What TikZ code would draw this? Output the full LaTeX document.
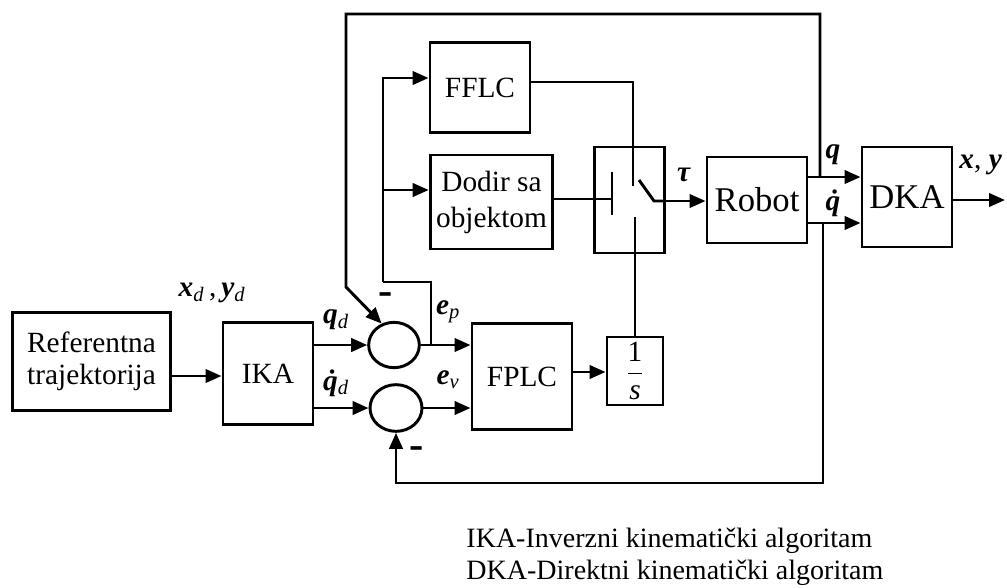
\documentclass[tikz,border=0pt]{standalone}
\usepackage{amsmath}
\usepackage{fontspec}
\setmainfont{Liberation Serif}
\usetikzlibrary{arrows.meta,shapes.geometric}
\newcommand{\bvec}[1]{\textbf{\textit{#1}}}
\newcommand{\dq}{\textbf{\textit{\accent"02D9 q}}}
\begin{document}
\begin{tikzpicture}[x=0.75pt,y=-0.75pt,>={Triangle[length=12pt,width=10pt]},line width=2.2pt,
    block/.style={draw,rectangle,inner sep=0pt,align=center,font=\fontsize{22}{24}\selectfont},
    sum/.style={draw,ellipse,inner sep=0pt},
    lbl/.style={inner sep=0pt,font=\fontsize{22}{24}\selectfont},
    minus/.style={inner sep=0pt,font=\fontsize{32}{32}\bfseries}]
  \useasboundingbox (0,0) rectangle (1007,587);
  \node[block,minimum width=119pt,minimum height=73pt] (ref) at (91.5,361.5) {Referentna\\trajektorija};
  \node[block,minimum width=67.5pt,minimum height=76pt] (ika) at (268,373.5) {IKA};
  \node[sum,minimum width=38pt,minimum height=34pt] (s1) at (394,345) {};
  \node[sum,minimum width=39pt,minimum height=35pt] (s2) at (396,408) {};
  \node[block,minimum width=75pt,minimum height=68pt] (fflc) at (480,87.5) {FFLC};
  \node[block,minimum width=92pt,minimum height=70.5pt,font=\fontsize{22}{27}\selectfont] (dodir) at (491.5,202) {Dodir sa\\objektom};
  \node[block,minimum width=75pt,minimum height=80pt] (fplc) at (522,376.5) {FPLC};
  \node[block,minimum width=42pt,minimum height=51pt] (inv) at (635,371) {$\dfrac{\text{1}}{\text{\itshape s}}$};
  \node[block,minimum width=52pt,minimum height=79.5pt] (sw) at (629.5,200) {};
  \node[block,minimum width=75pt,minimum height=64.5pt,font=\fontsize{26}{28}\selectfont] (robot) at (757,200) {Robot};
  \node[block,minimum width=67.5pt,minimum height=75pt,font=\fontsize{26}{28}\selectfont] (dka) at (907,197) {DKA};
  \coordinate (ep) at (431,345);
  \coordinate (fb) at (383,282);
  \coordinate (fq) at (820,177);
  \coordinate (fqd) at (823,223);
  \coordinate (swin) at (612,199);
  \coordinate (swtop) at (633,186);
  \coordinate (swbot) at (635,217);
  \coordinate (out) at (1005,200);
  \draw[->] (ref.east |- 0,376) -- (ika.west |- 0,376);
  \draw[->] (ika.east |- s1.west) -- (s1.west);
  \draw[->] (ika.east |- s2.west) -- (s2.west);
  \draw[->] (s1.east) -- (fplc.west |- s1.east);
  \draw[->] (s2.east) -- (fplc.west |- s2.east);
  \draw (ep) |- (fb);
  \draw[->] (fb) |- (fflc.west |- 0,78);
  \draw[->] (fb |- 0,190) -- (dodir.west |- 0,190);
  \draw[->] (fplc.east |- 0,372) -- (inv.west |- 0,372);
  \draw (dodir.east |- swin) -- (swin);
  \draw (612,172) -- (612,215);
  \draw (fflc.east |- 0,82) -| (swtop);
  \draw (inv.north) -- (inv.north |- swbot);
  \draw (639,180) -- (654,201) -- (sw.east |- 0,201);
  \draw[->] (sw.east |- 0,201) -- (robot.west |- 0,201);
  \draw[->] (robot.east |- fq) -- (dka.west |- fq);
  \draw[->] (robot.east |- fqd) -- (dka.west |- fqd);
  \draw[->] (dka.east |- out) -- (out);
  \draw[->] (fq) -- (820,14) -| (346,287) -- (s1.120);
  \draw[->] (fqd) -- (823,483) -| (s2.south);
  \node[lbl] (lxy) at (212,293) {\bvec{x}\textsubscript{\itshape d}\,,\,\bvec{y}\textsubscript{\itshape d}};
  \node[lbl] (lqd) at (336,320) {\bvec{q}\textsubscript{\itshape d}};
  \node[lbl] (lqdd) at (336,383) {\dq\textsubscript{\itshape d}};
  \node[lbl] (lep) at (448,312) {\bvec{e}\textsubscript{\itshape p}};
  \node[lbl] (lev) at (448,380) {\bvec{e}\textsubscript{\itshape v}};
  \node[lbl] (ltau) at (684,175) {\bvec{τ}};
  \node[lbl] (lq) at (833,155) {\bvec{q}};
  \node[lbl] (lqdot) at (833,203) {\dq};
  \node[lbl,anchor=west] (lout) at (958,165) {\bvec{x}, \bvec{y}};
  \node[minus] (m1) at (386,299) {-};
  \node[minus] (m2) at (417,453) {-};
  \node[anchor=north west,inner sep=0pt,align=left,font=\fontsize{21}{24}\selectfont] (leg) at (465,527) {IKA-Inverzni kinematički algoritam\\DKA-Direktni kinematički algoritam};
\end{tikzpicture}
\end{document}
